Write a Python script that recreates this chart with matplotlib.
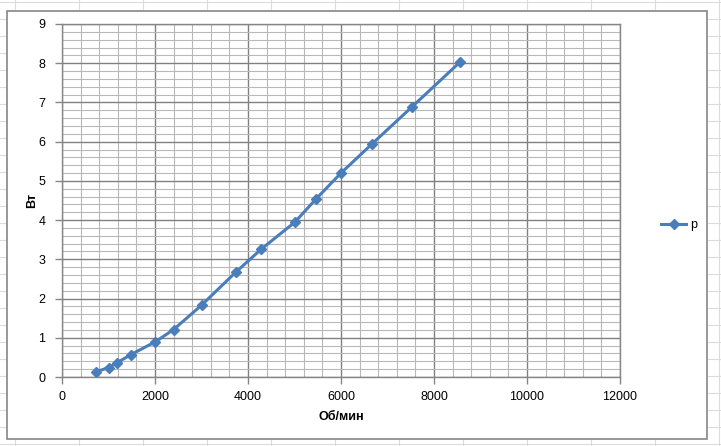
import matplotlib
matplotlib.use("Agg")
import matplotlib.pyplot as plt
from matplotlib.ticker import MultipleLocator
from matplotlib.patches import Rectangle
from matplotlib.lines import Line2D

# Data
rpm = [730, 1000, 1180, 1480, 2010, 2400, 3000, 3735, 4285, 5010, 5455, 6000, 6665, 7520, 8560]
power = [0.13, 0.24, 0.36, 0.57, 0.90, 1.21, 1.83, 2.67, 3.26, 3.95, 4.53, 5.20, 5.94, 6.88, 8.03]
series_name = "p"
x_label = "Об/мин"
y_label = "Вт"
x_ticks = [0, 2000, 4000, 6000, 8000, 10000, 12000]
y_ticks = [0, 1, 2, 3, 4, 5, 6, 7, 8, 9]

plt.rcParams['font.family'] = ['Liberation Sans', 'DejaVu Sans']

W, H = 721, 446
fig = plt.figure(figsize=(W / 100, H / 100), dpi=100)
fig.patch.set_facecolor("white")

# Faint spreadsheet cell grid behind the chart
for xv in range(15, W, 64):
    fig.add_artist(Line2D([xv / W, xv / W], [0, 1], color="#dcdcdc", lw=0.8, zorder=0))
for yv in range(2, H, 17):
    fig.add_artist(Line2D([0, 1], [1 - yv / H, 1 - yv / H], color="#dcdcdc", lw=0.8, zorder=0))

# Chart area frame
fig.add_artist(Rectangle((7 / W, 1 - 439 / H), (707 - 7) / W, (439 - 11) / H,
                         facecolor="white", edgecolor="#868686", lw=1.2, zorder=1))

ax = fig.add_axes([62 / W, 1 - 377 / H, (620 - 62) / W, (377 - 24) / H], zorder=2)
ax.set_facecolor("white")

ax.plot(rpm, power, color="#4a7ebb", lw=2.2, marker="D", markersize=5.5,
        markerfacecolor="#4a7ebb", markeredgecolor="#4a7ebb", label=series_name, zorder=5)

ax.set_xlim(0, 12000)
ax.set_ylim(0, 9)
ax.set_xticks(x_ticks)
ax.set_yticks(y_ticks)
ax.set_xticklabels([str(t) for t in x_ticks])
ax.set_yticklabels([str(t) for t in y_ticks])
ax.xaxis.set_minor_locator(MultipleLocator(400))
ax.yaxis.set_minor_locator(MultipleLocator(0.2))

ax.grid(which="major", color="#808080", lw=1.0, zorder=0)
ax.grid(which="minor", color="#b8b8b8", lw=0.8, zorder=0)
ax.set_axisbelow(True)

for s in ax.spines.values():
    s.set_color("#868686")
    s.set_linewidth(1.0)

ax.tick_params(which="major", direction="out", length=5, width=1.0, color="#868686",
               labelsize=9, labelcolor="black")
ax.tick_params(axis="x", which="major", pad=5)
ax.tick_params(axis="y", which="major", pad=7)
ax.tick_params(which="minor", length=0)

ax.set_xlabel(x_label, fontsize=9, fontweight="bold", labelpad=6)
ax.set_ylabel(y_label, fontsize=9, fontweight="bold", labelpad=0)

leg = fig.legend(loc="center left", bbox_to_anchor=(650 / W, 1 - 225 / H), frameon=False,
                 fontsize=9, handlelength=2.0, handletextpad=0.3)

fig.savefig("out.png", dpi=100, facecolor="white")
